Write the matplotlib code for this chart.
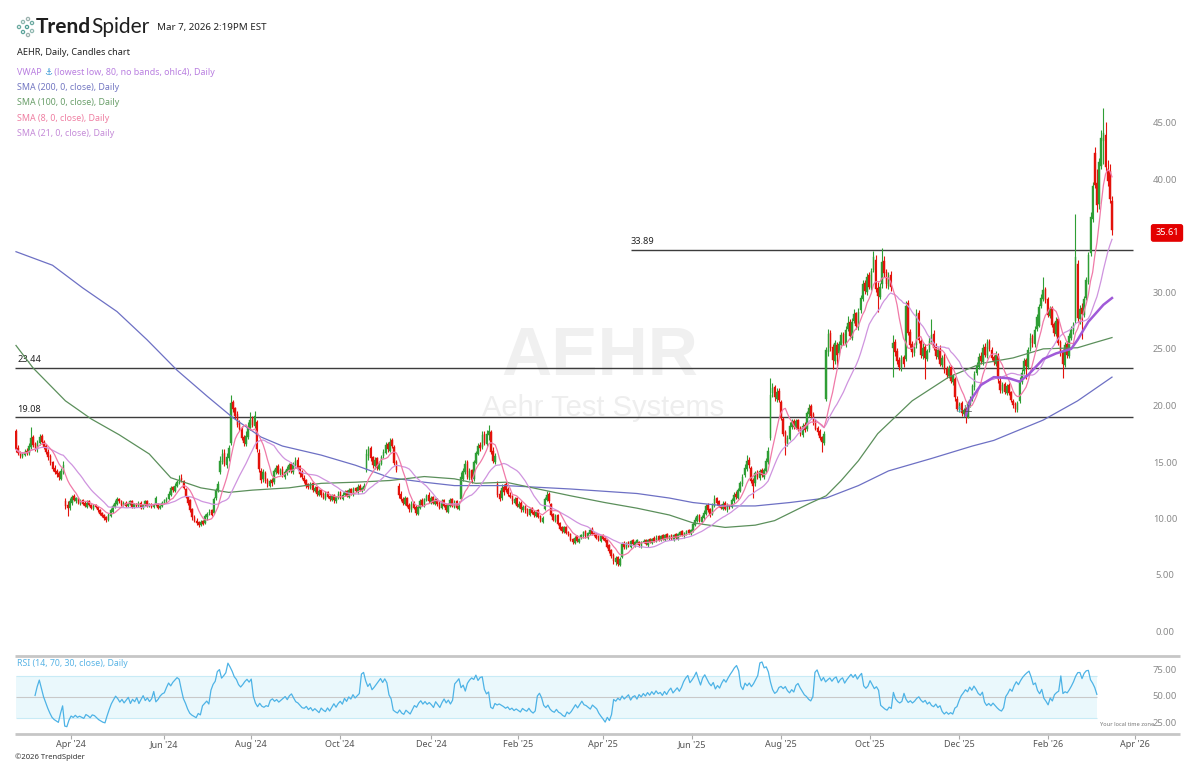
import numpy as np
import pandas as pd
import matplotlib
matplotlib.use("Agg")
import matplotlib.pyplot as plt
import matplotlib.transforms as mtransforms
from matplotlib.patches import Circle

# ---------------- data (daily candles) ----------------
opens = [
    17.8, 16.3, 15.9, 15.5, 15.7, 16.1,
    15.9, 16.4, 17.3, 16.7, 16.2, 16.8, 17.4, 16.9, 16.5, 16.0, 15.6, 15.1, 14.6, 14.3, 14.1, 13.6, 14.2, 11.6, 11.3, 11.0,
    11.5, 12.1, 11.6, 11.9, 11.4, 11.7, 11.5, 11.1, 11.6, 11.3, 10.9, 11.3, 11.1, 10.8, 10.6, 10.4, 10.2, 10.0, 10.3, 10.7, 11.1, 11.4,
    11.8, 11.6, 11.3, 11.5, 11.2, 11.4, 11.6, 11.1, 11.4, 11.2, 11.5, 11.0, 11.3, 11.6, 11.2, 11.4, 11.1, 11.3, 11.4, 11.0, 11.2, 11.5,
    11.6, 11.8, 12.2, 12.9, 12.5, 13.0, 13.2, 13.7, 13.4, 12.7, 12.0, 11.7, 10.9, 10.2, 9.9, 9.8, 9.5, 9.9, 9.7,
    10.2, 10.6, 10.8, 10.6, 11.9, 12.5, 14.2, 15.1, 15.9, 14.8, 15.4, 16.8, 20.4, 19.9, 19.3, 18.5, 18.1, 17.3, 16.7, 17.3, 18.1, 19.0,
    18.3, 18.6, 15.9, 14.3, 13.6, 14.1, 13.5, 13.0, 13.5, 13.3, 14.2, 14.7, 14.0, 14.5, 13.8, 14.1, 14.4, 14.9, 14.2, 14.8, 15.3, 14.7,
    14.2, 13.7, 13.5, 13.1, 12.8, 13.2, 12.5, 12.9, 12.2, 12.6, 12.3, 11.8, 12.4, 12.1, 11.7, 12.2, 11.6, 11.9, 12.4, 11.8,
    12.2, 12.5, 12.0, 12.7, 12.2, 12.8, 12.4, 13.0, 12.5, 12.7, 14.4, 15.6, 16.3, 15.5, 14.7, 15.4, 14.5, 14.9, 15.6, 15.9, 16.7, 16.1, 17.0,
    16.4, 15.1, 13.0, 12.3, 11.8, 11.4, 11.9, 11.3, 10.8, 11.5, 11.1, 10.5, 11.0, 11.7, 11.2, 11.7, 12.2, 11.5, 12.0, 11.4,
    11.8, 11.5, 11.0, 11.7, 11.3, 10.7, 11.2, 11.8, 11.1, 11.6, 10.9, 11.8, 13.6, 14.2, 15.1, 13.7, 14.4, 13.6, 15.0, 15.8, 16.6,
    16.4, 17.6, 16.7, 17.5, 17.7, 16.1, 15.1, 13.1, 12.3, 11.9, 12.9, 13.1, 12.7, 12.2, 12.1, 11.5, 11.9, 11.1, 11.5, 10.8,
    11.2, 10.9, 10.4, 11.0, 10.7, 10.3, 10.8, 10.3, 9.8, 10.9, 11.7, 12.3, 11.4, 10.5, 9.9, 10.4, 9.7, 9.3, 8.9,
    9.3, 8.9, 8.7, 8.3, 7.9, 8.5, 8.0, 8.4, 8.5, 9.0, 8.4, 8.7, 9.2, 8.8, 8.7, 8.5, 8.1, 8.6, 8.4, 8.2, 7.7,
    7.3, 6.9, 6.2, 6.7, 6.0, 6.7, 7.9, 7.5, 8.0, 7.6, 8.2, 7.7, 7.9, 8.0, 7.6, 8.0, 8.2, 7.7, 8.3, 7.9, 8.4,
    8.1, 8.5, 8.2, 8.6, 8.2, 8.7, 8.3, 8.6, 8.2, 8.7, 8.3, 8.6, 9.0, 8.5, 8.7, 9.1, 8.7, 9.0, 9.5, 9.9, 10.4,
    9.8, 10.1, 10.5, 11.3, 10.9, 10.5, 11.2, 11.9, 11.6, 11.3, 10.9, 11.5, 10.8, 11.2, 11.1, 11.6, 12.3, 11.9, 12.5, 13.1,
    13.9, 14.5, 15.3, 14.6, 13.5, 13.2, 14.2, 13.7, 14.4, 13.8, 14.3, 15.1, 17.2, 21.2, 21.7, 20.7, 21.4, 20.4, 18.9, 17.7, 16.7, 17.1,
    18.2, 18.7, 18.1, 18.8, 18.1, 17.5, 18.4, 18.0, 19.3, 20.0, 19.3, 18.7, 18.1, 17.8, 17.3, 16.8, 20.7, 24.8, 26.5, 25.3, 24.0,
    25.4, 24.7, 25.4, 26.4, 25.5, 26.9, 27.5, 26.1, 27.6, 28.3, 27.0, 28.5, 29.5, 30.9, 30.1, 31.6, 30.5, 32.1, 33.0, 30.5, 29.7,
    30.8, 32.9, 31.9, 30.7, 31.6, 25.2, 25.7, 24.9, 24.1, 23.4, 24.4, 24.2, 29.2, 26.6, 25.5, 24.7, 25.4, 28.3, 25.8, 24.5, 25.3, 24.2, 25.0,
    25.7, 26.4, 25.3, 24.4, 25.1, 23.7, 24.4, 23.3, 22.7, 23.5, 22.2, 22.4, 20.7, 19.7, 20.3, 19.3, 19.8, 19.1, 20.2,
    20.7, 21.7, 23.0, 23.5, 24.5, 23.9, 25.3, 24.5, 25.8, 25.0, 24.4, 23.8, 24.5, 22.3, 21.4, 22.0, 21.2, 21.9, 21.3, 20.5, 20.2, 19.7,
    20.5, 22.2, 23.1, 24.1, 23.5, 25.1, 26.2, 25.5, 26.9, 27.1, 28.9, 29.5, 30.4, 29.5, 28.0, 28.7, 27.3, 26.4, 27.7, 25.7,
    24.9, 23.7, 25.5, 24.5, 26.1, 26.7, 27.6, 32.6, 27.7, 28.7, 28.1, 29.6, 31.0, 33.6, 36.6, 42.4, 39.8, 37.9, 41.3,
    43.5, 44.0, 41.0, 40.8, 38.2,
]
highs = [
    18.0, 16.6, 16.1, 16.0, 16.2, 16.3,
    16.8, 18.2, 17.5, 16.9, 17.0, 17.6, 17.6, 17.0, 16.7, 16.2, 15.8, 15.2, 14.8, 14.5, 14.3, 14.6, 15.2, 11.9, 11.6, 11.9,
    12.2, 12.3, 12.0, 12.0, 11.8, 11.8, 11.6, 11.7, 11.7, 11.4, 11.4, 11.4, 11.2, 10.9, 10.7, 10.5, 10.3, 10.6, 11.0, 11.4, 11.7, 12.0,
    11.9, 11.7, 11.6, 11.6, 11.5, 11.7, 11.7, 11.5, 11.5, 11.6, 11.6, 11.4, 11.7, 11.7, 11.5, 11.5, 11.4, 12.1, 11.5, 11.3, 11.6, 11.8,
    12.0, 12.5, 13.0, 13.0, 13.2, 13.5, 13.9, 14.0, 13.5, 12.8, 12.1, 11.8, 11.0, 10.4, 10.1, 9.9, 10.0, 10.0, 10.5,
    10.7, 10.9, 10.9, 12.0, 12.8, 13.4, 15.6, 16.2, 16.2, 15.9, 16.6, 21.0, 20.6, 20.0, 19.6, 18.8, 18.3, 17.5, 17.8, 18.6, 19.5, 19.2,
    19.6, 18.8, 16.2, 14.6, 14.5, 14.3, 13.7, 13.6, 13.7, 14.5, 14.8, 14.9, 14.6, 14.7, 14.4, 14.7, 15.0, 15.1, 15.1, 15.5, 15.5, 14.8,
    14.4, 13.9, 13.6, 13.2, 13.3, 13.3, 13.0, 13.0, 12.7, 12.7, 12.4, 12.5, 12.5, 12.2, 12.3, 12.3, 12.1, 12.5, 12.5, 12.4,
    12.6, 12.6, 12.8, 12.8, 12.9, 12.9, 13.1, 13.1, 12.9, 13.2, 16.2, 16.5, 16.5, 15.6, 15.5, 15.5, 15.2, 15.7, 16.2, 16.9, 16.9, 17.2, 17.2,
    16.6, 15.3, 13.2, 12.5, 12.0, 12.1, 12.0, 11.5, 11.6, 11.6, 11.3, 11.3, 11.8, 11.9, 11.9, 12.3, 12.4, 12.1, 12.1, 11.9,
    11.9, 11.6, 11.8, 11.8, 11.4, 11.5, 11.9, 11.9, 11.7, 11.7, 11.6, 14.2, 14.6, 15.3, 15.3, 14.6, 14.5, 15.3, 16.1, 16.8, 16.9,
    17.8, 17.8, 17.9, 18.4, 17.9, 16.4, 15.9, 13.4, 12.6, 13.1, 13.1, 13.3, 12.9, 12.4, 12.2, 12.0, 12.0, 11.6, 11.6, 11.3,
    11.3, 11.0, 11.0, 11.1, 10.8, 10.8, 10.9, 10.4, 10.3, 12.0, 12.5, 12.4, 11.5, 10.6, 10.5, 10.5, 9.8, 9.4, 9.4,
    9.4, 9.0, 8.8, 8.4, 8.5, 8.6, 8.4, 8.7, 9.0, 9.1, 8.9, 9.2, 9.3, 8.9, 8.8, 8.6, 8.6, 8.7, 8.5, 8.3, 7.8,
    7.4, 7.0, 6.8, 6.8, 6.7, 8.0, 8.1, 8.0, 8.1, 8.2, 8.3, 8.1, 8.3, 8.1, 8.1, 8.3, 8.3, 8.3, 8.4, 8.4, 8.5,
    8.6, 8.6, 8.6, 8.7, 8.7, 8.8, 8.6, 8.7, 8.7, 8.8, 8.8, 9.0, 9.1, 8.9, 9.1, 9.2, 9.2, 9.8, 10.2, 10.5, 10.5,
    10.4, 10.8, 11.4, 11.5, 11.0, 11.5, 12.2, 12.0, 11.7, 11.4, 11.6, 11.6, 11.5, 11.3, 11.9, 12.4, 12.5, 12.8, 13.4, 14.0,
    14.9, 15.7, 15.5, 14.7, 13.7, 14.3, 14.4, 14.5, 14.6, 14.6, 15.4, 16.4, 22.5, 22.1, 21.9, 21.6, 21.6, 20.6, 19.1, 17.9, 17.5, 18.6,
    18.9, 18.9, 18.9, 18.9, 18.3, 18.5, 18.6, 19.6, 20.2, 20.2, 19.5, 18.9, 18.3, 18.0, 17.4, 17.8, 25.3, 26.9, 26.8, 25.5, 25.9,
    25.7, 25.8, 26.6, 26.6, 27.1, 28.0, 27.7, 27.8, 28.6, 28.4, 28.7, 29.9, 31.2, 31.2, 31.8, 31.9, 32.3, 33.8, 33.4, 31.0, 30.9,
    34.0, 33.3, 32.2, 31.9, 32.0, 26.3, 26.0, 25.2, 24.4, 24.6, 24.6, 29.3, 29.4, 26.9, 25.8, 25.6, 28.6, 28.5, 26.0, 25.6, 25.5, 25.1, 26.2,
    27.7, 26.8, 25.6, 25.3, 25.4, 24.6, 24.7, 23.6, 23.7, 23.7, 22.9, 22.6, 20.9, 20.4, 20.5, 19.9, 20.0, 20.5, 20.9,
    22.0, 23.1, 23.9, 24.7, 24.8, 25.5, 25.6, 26.0, 26.0, 25.3, 24.6, 24.9, 24.7, 22.7, 22.2, 22.2, 22.0, 22.1, 21.4, 20.7, 20.4, 20.5,
    22.6, 23.3, 24.3, 24.3, 25.3, 26.5, 26.4, 27.1, 28.2, 29.1, 30.0, 31.5, 30.6, 29.7, 28.9, 28.9, 27.5, 27.9, 27.9, 25.9,
    25.1, 25.7, 25.8, 26.5, 27.1, 27.5, 37.0, 33.0, 29.0, 29.2, 29.8, 31.5, 33.7, 37.2, 39.9, 43.0, 41.0, 42.0, 44.5,
    46.4, 45.2, 41.8, 41.5, 38.6,
]
lows = [
    16.0, 15.7, 15.4, 15.4, 15.6, 15.7,
    15.7, 16.2, 16.4, 16.1, 16.0, 16.6, 16.7, 16.2, 15.8, 15.3, 14.8, 14.3, 14.0, 13.8, 13.5, 13.5, 14.0, 10.9, 10.3, 10.8,
    11.3, 11.6, 11.5, 11.4, 11.3, 11.3, 11.1, 11.0, 11.2, 10.9, 10.8, 11.0, 10.7, 10.4, 10.2, 10.0, 9.8, 9.9, 10.2, 10.6, 11.0, 11.3,
    11.5, 11.2, 11.2, 11.1, 11.1, 11.3, 11.0, 11.0, 11.1, 11.1, 10.9, 10.9, 11.2, 11.1, 11.1, 11.0, 11.0, 11.2, 10.9, 10.9, 11.1, 11.4,
    11.5, 11.7, 12.1, 12.4, 12.4, 12.9, 13.1, 13.3, 12.7, 11.9, 11.3, 10.7, 10.0, 9.8, 9.5, 9.3, 9.4, 9.5, 9.6,
    10.0, 10.4, 10.3, 10.5, 11.7, 12.4, 14.0, 14.9, 14.7, 14.6, 15.2, 16.6, 19.5, 18.9, 18.2, 17.8, 17.0, 16.5, 16.5, 17.1, 17.9, 18.2,
    18.1, 16.0, 14.2, 13.2, 13.3, 13.2, 12.9, 12.9, 13.0, 13.1, 14.0, 14.0, 13.9, 13.8, 13.6, 13.9, 14.2, 14.1, 14.0, 14.6, 14.4, 13.8,
    13.6, 13.2, 12.8, 12.7, 12.7, 12.4, 12.4, 12.1, 12.1, 12.0, 11.8, 11.7, 11.9, 11.6, 11.6, 11.5, 11.5, 11.8, 11.8, 11.7,
    12.1, 12.0, 11.9, 12.2, 12.1, 12.4, 12.3, 12.5, 12.4, 12.6, 14.2, 15.3, 15.2, 14.6, 14.5, 14.4, 14.4, 14.8, 15.4, 15.8, 16.0, 16.0, 16.3,
    14.8, 14.2, 11.9, 11.6, 11.3, 11.3, 11.1, 10.7, 10.7, 10.9, 10.4, 10.4, 10.9, 11.2, 11.1, 11.6, 11.5, 11.4, 11.4, 11.3,
    11.2, 10.9, 10.9, 11.1, 10.7, 10.6, 11.1, 11.1, 11.0, 10.9, 10.8, 11.7, 13.4, 14.0, 13.6, 13.5, 13.2, 13.4, 14.9, 15.7, 16.1,
    16.2, 16.6, 16.5, 17.0, 15.8, 15.0, 14.9, 12.0, 11.6, 11.7, 12.2, 12.4, 12.1, 11.9, 11.4, 11.4, 11.1, 11.0, 10.7, 10.7,
    10.6, 10.3, 10.3, 10.5, 10.2, 10.2, 10.1, 9.8, 9.7, 10.8, 11.6, 11.5, 10.3, 9.9, 9.8, 9.5, 9.1, 8.8, 8.8,
    8.7, 8.5, 8.1, 7.8, 7.8, 8.0, 7.9, 8.3, 8.4, 8.4, 8.3, 8.6, 8.6, 8.5, 8.3, 8.1, 8.0, 8.2, 8.0, 7.5, 7.0,
    6.6, 6.1, 6.0, 5.9, 5.9, 6.6, 7.4, 7.4, 7.6, 7.5, 7.7, 7.6, 7.8, 7.6, 7.5, 7.9, 7.7, 7.6, 7.9, 7.8, 8.0,
    8.0, 8.1, 8.1, 8.2, 8.1, 8.3, 8.2, 8.2, 8.1, 8.3, 8.2, 8.5, 8.5, 8.4, 8.6, 8.7, 8.6, 8.9, 9.4, 9.8, 9.8,
    9.7, 10.0, 10.4, 10.7, 10.2, 10.4, 11.1, 11.3, 11.1, 10.9, 10.8, 10.8, 10.7, 10.9, 11.0, 11.5, 11.8, 11.8, 12.4, 13.0,
    13.8, 14.3, 14.6, 13.2, 11.9, 13.0, 13.6, 13.5, 13.8, 13.6, 14.1, 14.9, 17.0, 20.8, 20.5, 20.4, 20.4, 18.8, 17.4, 15.7, 16.5, 17.0,
    18.0, 18.0, 18.0, 17.8, 17.4, 17.3, 17.7, 17.8, 19.1, 19.0, 18.4, 17.9, 17.5, 17.0, 16.0, 16.6, 20.5, 24.5, 24.9, 23.3, 23.8,
    23.5, 24.5, 25.2, 25.4, 25.3, 26.7, 26.0, 25.9, 27.4, 26.9, 26.8, 28.3, 29.3, 30.0, 29.9, 30.4, 30.3, 31.9, 30.1, 28.4, 29.5,
    30.5, 31.5, 30.5, 30.4, 30.2, 22.6, 24.5, 23.8, 23.2, 23.1, 23.5, 24.0, 26.3, 25.1, 24.4, 24.5, 25.2, 25.6, 24.3, 24.2, 22.4, 24.0, 24.8,
    25.5, 25.0, 24.2, 24.2, 23.6, 23.5, 23.0, 22.5, 22.5, 22.1, 21.9, 20.5, 19.6, 19.5, 19.2, 19.1, 18.5, 19.0, 20.0,
    20.5, 21.5, 22.8, 23.3, 23.8, 23.7, 24.4, 24.3, 24.9, 24.1, 23.7, 23.6, 22.1, 21.2, 21.2, 21.1, 21.0, 21.0, 20.4, 19.9, 19.5, 19.5,
    20.3, 22.0, 22.9, 22.4, 23.3, 24.9, 25.3, 25.3, 26.7, 27.0, 28.7, 29.3, 29.2, 27.9, 27.8, 27.0, 26.2, 26.2, 25.4, 24.5,
    22.5, 23.5, 24.3, 24.3, 25.9, 26.4, 27.4, 27.5, 27.3, 26.0, 27.9, 29.4, 30.8, 33.3, 36.3, 39.3, 37.2, 37.5, 41.0,
    41.5, 40.8, 39.5, 38.0, 35.2,
]
closes = [
    16.2, 15.9, 15.6, 15.8, 16.0, 15.9,
    16.5, 17.2, 16.6, 16.3, 16.8, 17.3, 16.9, 16.4, 16.0, 15.5, 15.0, 14.5, 14.2, 14.0, 13.8, 14.3, 14.8, 11.2, 11.0, 11.6,
    12.0, 11.7, 11.9, 11.5, 11.6, 11.4, 11.2, 11.5, 11.3, 11.0, 11.2, 11.1, 10.8, 10.5, 10.3, 10.1, 10.0, 10.4, 10.8, 11.2, 11.5, 11.8,
    11.6, 11.3, 11.5, 11.2, 11.4, 11.6, 11.1, 11.4, 11.2, 11.5, 11.0, 11.3, 11.6, 11.2, 11.4, 11.1, 11.3, 11.9, 11.0, 11.2, 11.5, 11.7,
    11.8, 12.3, 12.8, 12.6, 13.0, 13.3, 13.6, 13.5, 12.8, 12.0, 11.5, 10.8, 10.2, 9.9, 9.7, 9.5, 9.8, 9.6, 10.3,
    10.5, 10.7, 10.4, 11.8, 12.6, 13.1, 15.2, 15.8, 14.9, 15.5, 16.3, 20.3, 19.8, 19.2, 18.4, 18.0, 17.2, 16.8, 17.4, 18.2, 18.8, 18.4,
    19.2, 16.2, 14.5, 13.5, 14.2, 13.4, 13.1, 13.4, 13.2, 14.3, 14.6, 14.1, 14.4, 13.9, 14.2, 14.5, 14.8, 14.3, 14.9, 15.2, 14.6, 14.0,
    13.8, 13.4, 13.0, 12.9, 13.1, 12.6, 12.8, 12.3, 12.5, 12.2, 11.9, 12.3, 12.0, 11.8, 12.1, 11.7, 12.0, 12.3, 11.9, 12.2,
    12.4, 12.1, 12.6, 12.3, 12.7, 12.5, 12.9, 12.6, 12.8, 13.0, 15.8, 16.2, 15.4, 14.8, 15.3, 14.6, 15.0, 15.5, 16.0, 16.6, 16.2, 16.9, 16.5,
    15.0, 14.4, 12.2, 11.8, 11.5, 11.9, 11.2, 10.9, 11.4, 11.0, 10.6, 11.1, 11.6, 11.3, 11.8, 12.1, 11.6, 11.9, 11.5, 11.7,
    11.4, 11.0, 11.6, 11.2, 10.8, 11.3, 11.7, 11.2, 11.5, 11.0, 11.4, 13.8, 14.3, 14.9, 13.8, 14.3, 13.5, 15.1, 15.9, 16.5, 16.3,
    17.5, 16.8, 17.6, 17.8, 16.0, 15.2, 15.6, 12.2, 11.8, 12.8, 12.4, 12.6, 12.3, 12.0, 11.6, 11.8, 11.2, 11.4, 10.9, 11.1,
    10.8, 10.5, 10.9, 10.6, 10.4, 10.7, 10.2, 9.9, 10.1, 11.8, 12.2, 11.6, 10.4, 10.0, 10.3, 9.6, 9.2, 9.0, 9.3,
    8.8, 8.6, 8.2, 8.0, 8.4, 8.1, 8.3, 8.6, 8.9, 8.5, 8.8, 9.1, 8.7, 8.6, 8.4, 8.2, 8.5, 8.3, 8.1, 7.6, 7.2,
    6.8, 6.3, 6.6, 6.1, 6.5, 7.8, 7.6, 7.9, 7.7, 8.1, 7.8, 8.0, 8.2, 7.7, 8.0, 8.1, 7.8, 8.2, 8.0, 8.3, 8.1,
    8.4, 8.2, 8.5, 8.3, 8.6, 8.4, 8.5, 8.3, 8.6, 8.4, 8.7, 8.9, 8.6, 8.8, 9.0, 8.8, 9.1, 9.6, 10.0, 10.3, 9.9,
    10.2, 10.6, 11.2, 10.8, 10.4, 11.3, 11.8, 11.5, 11.2, 11.0, 11.4, 10.9, 11.3, 11.1, 11.7, 12.2, 12.0, 12.6, 13.2, 13.8,
    14.6, 15.2, 14.8, 13.4, 13.0, 14.1, 13.8, 14.3, 13.9, 14.4, 15.2, 16.1, 21.0, 21.6, 20.8, 21.3, 20.6, 19.0, 17.6, 16.8, 17.2, 18.3,
    18.6, 18.2, 18.7, 18.0, 17.6, 18.3, 17.9, 19.4, 19.9, 19.2, 18.6, 18.0, 17.7, 17.2, 16.9, 17.6, 25.0, 26.4, 25.2, 24.1, 25.6,
    24.6, 25.5, 26.3, 25.6, 26.8, 27.4, 26.2, 27.5, 28.2, 27.1, 28.4, 29.6, 30.8, 30.2, 31.5, 30.6, 32.0, 33.2, 30.4, 29.8, 30.6,
    32.8, 31.8, 30.8, 31.5, 30.6, 25.6, 24.8, 24.0, 23.5, 24.3, 23.8, 28.9, 26.5, 25.4, 24.8, 25.3, 28.2, 25.9, 24.6, 25.2, 24.3, 24.9, 25.8,
    26.3, 25.2, 24.5, 25.0, 23.8, 24.3, 23.2, 22.8, 23.4, 22.3, 22.7, 20.8, 19.8, 20.2, 19.4, 19.7, 19.2, 20.3, 20.6,
    21.8, 22.9, 23.6, 24.4, 24.0, 25.2, 24.6, 25.7, 25.1, 24.3, 23.9, 24.6, 22.4, 21.5, 21.9, 21.3, 21.8, 21.2, 20.6, 20.1, 19.8, 20.3,
    22.3, 23.0, 24.0, 23.6, 25.0, 26.1, 25.6, 26.8, 27.9, 28.8, 29.6, 30.3, 29.4, 28.1, 28.6, 27.2, 26.5, 27.6, 25.6, 24.8,
    23.8, 25.4, 24.6, 26.2, 26.8, 27.2, 33.2, 27.8, 28.6, 28.2, 29.5, 31.2, 33.4, 36.8, 39.5, 39.6, 37.8, 41.6, 43.8,
    44.2, 41.2, 40.0, 38.4, 35.61,
]

# long moving averages and anchored VWAP
sma200_dates = ["2024-02-22", "2024-03-18", "2024-04-08", "2024-04-30", "2024-05-20", "2024-06-10",
                "2024-07-01", "2024-07-18", "2024-08-06", "2024-08-20", "2024-09-16", "2024-10-08",
                "2024-10-30", "2024-11-21", "2024-12-12", "2025-01-20", "2025-03-05", "2025-04-17",
                "2025-05-09", "2025-05-27", "2025-06-17", "2025-07-09", "2025-07-31", "2025-08-25",
                "2025-09-16", "2025-10-06", "2025-11-03", "2025-12-01", "2025-12-15", "2026-01-20",
                "2026-02-11", "2026-03-06"]
sma200_vals = [33.7, 32.5, 30.5, 28.4, 25.9, 23.2, 20.9, 19.0, 17.3, 16.5, 15.7, 14.8,
               13.7, 13.3, 13.0, 13.0, 12.7, 12.3, 11.9, 11.5, 11.2, 11.2, 11.5, 11.9,
               13.0, 14.3, 15.4, 16.5, 17.0, 18.8, 20.5, 22.6]
sma100_dates = ["2024-02-22", "2024-03-05", "2024-03-26", "2024-04-12", "2024-05-01", "2024-05-21",
                "2024-06-05", "2024-06-26", "2024-07-16", "2024-07-31", "2024-08-23", "2024-09-16",
                "2024-10-08", "2024-10-30", "2024-11-21", "2024-12-12", "2024-12-27", "2025-01-21",
                "2025-02-11", "2025-03-05", "2025-03-27", "2025-04-17", "2025-05-09", "2025-05-27",
                "2025-06-17", "2025-07-09", "2025-07-22", "2025-08-13", "2025-08-25", "2025-09-04",
                "2025-09-16", "2025-09-29", "2025-10-21", "2025-11-13", "2025-12-05", "2025-12-29",
                "2026-01-20", "2026-02-11", "2026-02-23", "2026-03-06"]
sma100_vals = [25.4, 23.4, 20.5, 18.9, 17.5, 15.8, 13.7, 12.8, 12.4, 12.6, 12.8, 13.2,
               13.3, 13.45, 13.8, 13.6, 13.2, 13.3, 12.7, 12.1, 11.5, 11.0, 10.4, 9.7,
               9.3, 9.5, 9.9, 11.4, 12.1, 13.45, 15.2, 17.6, 20.5, 22.6, 23.8, 24.3,
               25.1, 25.2, 25.6, 26.1]
vwap_dates = ["2025-11-25", "2025-11-28", "2025-12-05", "2025-12-15", "2025-12-24", "2026-01-02",
              "2026-01-08", "2026-01-20", "2026-01-28", "2026-02-06", "2026-02-11", "2026-02-19",
              "2026-03-02", "2026-03-06"]
vwap_vals = [19.2, 20.5, 21.9, 22.6, 22.5, 22.2, 22.8, 24.2, 24.7, 25.1, 25.9, 27.5, 29.0, 29.6]

level_values = [33.89, 23.44, 19.08]
level_starts = ["2025-04-14", None, None]
last_price = 35.61
price_ticks = [0, 5, 10, 15, 20, 25, 30, 35, 40, 45]
rsi_ticks = [25, 50, 75]
xtick_dates = ["2024-04-01", "2024-06-01", "2024-08-01", "2024-10-01", "2024-12-01", "2025-02-01",
               "2025-04-01", "2025-06-01", "2025-08-01", "2025-10-01", "2025-12-01", "2026-02-01",
               "2026-04-01"]
xtick_labels = ["Apr '24", "Jun '24", "Aug '24", "Oct '24", "Dec '24", "Feb '25", "Apr '25",
                "Jun '25", "Aug '25", "Oct '25", "Dec '25", "Feb '26", "Apr '26"]
market_holidays = ["2024-03-29", "2024-05-27", "2024-06-19", "2024-07-04", "2024-09-02", "2024-11-28",
                   "2024-12-25", "2025-01-01", "2025-01-09", "2025-01-20", "2025-02-17", "2025-04-18",
                   "2025-05-26", "2025-06-19", "2025-07-04", "2025-09-01", "2025-11-27", "2025-12-25",
                   "2026-01-01", "2026-01-19", "2026-02-16"]

n = len(closes)
assert len(opens) == n and len(highs) == n and len(lows) == n, (len(opens), len(highs), len(lows), n)

cbd = pd.offsets.CustomBusinessDay(holidays=market_holidays)
dates = pd.date_range(end="2026-03-06", periods=n, freq=cbd)
ext_dates = pd.date_range(start=dates[0], end="2026-04-30", freq=cbd)


def pos(d):
    return float(ext_dates.searchsorted(pd.Timestamp(d)))


o = np.array(opens); h = np.array(highs); l = np.array(lows); c = np.array(closes)
x = np.arange(n)

# ---------------- figure layout ----------------
W, H = 1200, 765
fig = plt.figure(figsize=(W / 100, H / 100), dpi=100)
fig.patch.set_facecolor("white")


def box(left, top, right, bottom):
    return [left / W, 1 - bottom / H, (right - left) / W, (bottom - top) / H]


PX = 2.149  # pixels per bar
XL = (15 - 16) / PX
XR = (1135 - 16) / PX
ax = fig.add_axes(box(15, 95, 1135, 655))
rax = fig.add_axes(box(15, 657, 1135, 733))
ov = fig.add_axes([0, 0, 1, 1], zorder=10)
ov.set_xlim(0, W); ov.set_ylim(H, 0); ov.axis("off")

Y0 = 632.5; SC = 11.3
ax.set_ylim((Y0 - 655) / SC, (Y0 - 95) / SC)
ax.set_xlim(XL, XR)
for a in (ax, rax):
    for s in a.spines.values():
        s.set_visible(False)
ax.set_xticks([]); ax.set_yticks([])

FONT = ["Noto Sans", "DejaVu Sans"]
GREEN = "#2f9e35"; RED = "#e3120b"

# watermark
ax.text(600 / W, 1 - 357 / H, "AEHR", transform=fig.transFigure, ha="center", va="center",
        fontsize=50, fontweight="bold", color="#f0f0f0", family=["Liberation Sans", "DejaVu Sans"], zorder=0)
ax.text(603 / W, 1 - 408 / H, "Aehr Test Systems", transform=fig.transFigure, ha="center", va="center",
        fontsize=21, color="#eeeeee", family=["Liberation Sans", "DejaVu Sans"], zorder=0)

# horizontal levels
RIGHT_I = (1133 - 16) / PX
for v, st in zip(level_values, level_starts):
    xs = pos(st) if st else XL
    ax.hlines(v, xs, RIGHT_I, color="#3c3c3c", lw=1.0, zorder=1.5)
    lx = xs if st else (17 - 16) / PX
    ax.text(lx, v + 0.3, f"{v:.2f}", fontsize=6.6, color="#222222", ha="left", va="bottom",
            family=FONT, zorder=1.6)

# candles
up = c >= o
col = np.where(up, GREEN, RED)
ax.vlines(x, np.minimum(l, np.minimum(o, c)), np.maximum(h, np.maximum(o, c)), colors=col, lw=0.8, zorder=2)
bb = np.minimum(o, c)
bh = np.maximum(np.abs(c - o), 0.07)
ax.bar(x, bh, bottom=bb, width=0.72, color=col, edgecolor=col, linewidth=0.3, zorder=2.1)

# moving averages
cs = pd.Series(c)
sma8 = cs.rolling(8, min_periods=1).mean()
sma21 = cs.rolling(21, min_periods=1).mean()
ax.plot([pos(d) for d in sma200_dates], sma200_vals, color="#6d70c4", lw=0.9, zorder=3)
ax.plot([pos(d) for d in sma100_dates], sma100_vals, color="#5b8f5b", lw=0.9, zorder=3)
ax.plot(x, sma21, color="#cf94df", lw=0.9, zorder=3.1)
ax.plot(x, sma8, color="#f07aa8", lw=0.9, zorder=3.2)
ax.plot([pos(d) for d in vwap_dates], vwap_vals, color="#a05ad8", lw=1.8, zorder=3.3)

# right price labels (the tick hidden behind the last-price tag is not shown)
btr = mtransforms.blended_transform_factory(ax.transAxes, ax.transData)
LX = (1165 - 15) / 1120
for v in price_ticks:
    if abs(v - last_price) < 1.5:
        continue
    ax.text(LX, v, f"{v:.2f}", transform=btr, ha="center", va="center", fontsize=6.8,
            color="#8a8a8a", family=FONT, clip_on=False)
ax.text((1167 - 15) / 1120, last_price - 0.25, f"{last_price:.2f}", transform=btr, ha="center", va="center",
        fontsize=6.6, color="white", fontweight="bold", family=FONT, clip_on=False, zorder=6,
        bbox=dict(boxstyle="round,pad=0.4,rounding_size=0.2", fc="#e30000", ec="#e30000"))

# ---------------- RSI panel ----------------
d = cs.diff()
ag = d.clip(lower=0).ewm(com=13, adjust=True).mean()
al = (-d.clip(upper=0)).ewm(com=13, adjust=True).mean()
rsi = (100 - 100 / (1 + ag / al)).to_numpy()
rsi[:9] = np.nan  # not enough history for the first bars
rax.set_xlim(XL, XR)
rax.set_ylim(16.0, 87.7)
rax.fill_between([0, n - 1], 30, 70, color="#eaf8fc", lw=0, zorder=0)
rax.hlines([30, 70], 0, n - 1, color="#c8ebf6", lw=0.8, zorder=0.5)
rax.hlines(50, 0, n - 1, color="#c9c9c9", lw=0.8, zorder=0.6)
rax.plot(x, rsi, color="#4db3e6", lw=0.9, zorder=2)
rax.set_yticks([])
rax.set_xticks([pos(dd) for dd in xtick_dates])
rax.set_xticklabels(xtick_labels, family=FONT)
rax.tick_params(axis="x", length=4, width=0.8, color="#aaaaaa", labelsize=6.5, labelcolor="#555555", pad=1)
rtr = mtransforms.blended_transform_factory(rax.transAxes, rax.transData)
for v in rsi_ticks:
    rax.text(LX, v, f"{v:.2f}", transform=rtr, ha="center", va="center", fontsize=6.8,
             color="#8a8a8a", family=FONT, clip_on=False)

# ---------------- overlay: separators, header, notes ----------------
ov.plot([15, 1180], [656, 656], color="#c6c6c6", lw=2, solid_capstyle="butt")
ov.plot([15, 1180], [733.5, 733.5], color="#c6c6c6", lw=2, solid_capstyle="butt")

renderer = fig.canvas.get_renderer()


def seq_text(x0, y0, pieces, **kw):
    xx = x0
    for s, colr, extra in pieces:
        kk = dict(kw); kk.update(extra)
        t = ov.text(xx, y0, s, color=colr, **kk)
        xx += t.get_window_extent(renderer).width
    return xx


# logo icon
pts = [(19, 27), (23, 22), (23, 32), (28, 19), (27, 27), (28, 35), (32, 23), (32, 31)]
cols_logo = ["#6aa9a0", "#8fb8b0", "#5aa39a", "#9ab0ad", "#4f9d93", "#9ab0ad", "#6aa9a0", "#8fb8b0"]
for (px_, py_), cc in zip(pts, cols_logo):
    ov.add_patch(Circle((px_, py_), 1.6, fill=False, ec=cc, lw=0.9))
seq_text(36, 33, [("Trend", "#1e1e1e", dict(fontweight="bold")), ("Spider", "#1e1e1e", dict(fontweight="normal"))],
         fontsize=15, va="baseline", ha="left", family=["Lato", "DejaVu Sans"])
ov.text(157, 27, "Mar 7, 2026 2:19PM EST", fontsize=7, color="#222222", va="center", ha="left", family=FONT)
ov.text(17, 52, "AEHR, Daily, Candles chart", fontsize=6.6, color="#222222", va="center", ha="left", family=FONT)
seq_text(17, 72, [("VWAP ", "#b97fe0", {}), ("\u2693", "#3d9bd6", dict(family=["DejaVu Sans"])),
                  (" (lowest low, 80, no bands, ohlc4), Daily", "#b97fe0", {})],
         fontsize=6.4, va="center", ha="left", family=FONT)
ov.text(17, 87, "SMA (200, 0, close), Daily", fontsize=6.4, color="#7377c2", va="center", ha="left", family=FONT)
ov.text(17, 102, "SMA (100, 0, close), Daily", fontsize=6.4, color="#6a9f6a", va="center", ha="left", family=FONT)
ov.text(17, 118, "SMA (8, 0, close), Daily", fontsize=6.4, color="#ef7fa2", va="center", ha="left", family=FONT)
ov.text(17, 133, "SMA (21, 0, close), Daily", fontsize=6.4, color="#c58bd8", va="center", ha="left", family=FONT)

ov.text(17, 663, "RSI (14, 70, 30, close), Daily", fontsize=6.3, color="#5ab4e5", va="center", ha="left", family=FONT)
ov.text(1100, 724, "Your local time zone", fontsize=4.1, color="#777777", va="center", ha="left", family=FONT)
ov.text(15, 757, "\u00a92026 TrendSpider", fontsize=5.5, color="#333333", va="center", ha="left", family=FONT)

# anchored VWAP marker
ov.text(955, 409, "\u2693", fontsize=5.5, color="#3fb6d9", va="center", ha="left", family=["DejaVu Sans"])
ov.text(963, 409, "LL", fontsize=6.2, color="#555555", va="center", ha="left", family=FONT)

fig.savefig("out.png", dpi=100, facecolor="white")
